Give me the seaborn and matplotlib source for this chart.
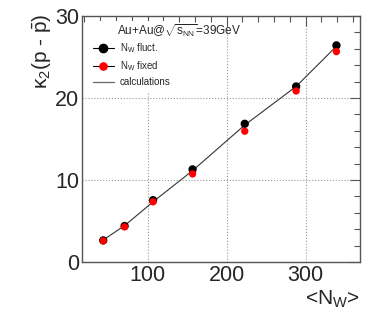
import matplotlib
matplotlib.use('Agg')
import matplotlib.pyplot as plt
from matplotlib.lines import Line2D
from matplotlib.ticker import MultipleLocator
import numpy as np
import pandas as pd
import seaborn as sns

# values
n_w = [44, 71, 107, 157, 223, 288, 339]
k2_fluct = [2.65, 4.4, 7.55, 11.3, 16.85, 21.4, 26.4]
k2_fixed = [2.6, 4.3, 7.35, 10.75, 15.95, 20.85, 25.65]
k2_calc = [2.7, 4.45, 7.35, 11.15, 16.7, 21.4, 26.3]

df = pd.DataFrame({'nw': n_w, 'fluct': k2_fluct, 'fixed': k2_fixed, 'calc': k2_calc})

sns.set_style('white')
plt.rcParams['font.family'] = ['Liberation Sans', 'DejaVu Sans']
plt.rcParams['mathtext.fontset'] = 'custom'
plt.rcParams['mathtext.rm'] = 'Liberation Sans'
plt.rcParams['mathtext.it'] = 'Liberation Sans'
plt.rcParams['mathtext.bf'] = 'Liberation Sans'

fig = plt.figure(figsize=(3.74, 3.17), dpi=100)
ax = fig.add_axes([0.219, 0.173, 0.744, 0.777])

# calculation line and the two point sets
sns.lineplot(data=df, x='nw', y='calc', ax=ax, color='#333333', lw=0.8, zorder=3)
sns.scatterplot(data=df, x='nw', y='fluct', ax=ax, color='black', s=36,
                edgecolor='none', zorder=4)
sns.scatterplot(data=df, x='nw', y='fixed', ax=ax, color='#ff0000', s=28,
                edgecolor='none', zorder=5)

ax.set_xlim(17, 369)
ax.set_ylim(0, 30)
ax.xaxis.set_major_locator(MultipleLocator(100))
ax.xaxis.set_minor_locator(MultipleLocator(20))
ax.yaxis.set_major_locator(MultipleLocator(10))
ax.yaxis.set_minor_locator(MultipleLocator(2))
ax.tick_params(which='both', direction='in', top=True, right=True,
               labelsize=15.5, color='#555555', pad=2)
ax.tick_params(which='major', length=7, width=0.8)
ax.tick_params(which='minor', length=4, width=0.8)
for sp in ax.spines.values():
    sp.set_color('#555555')
    sp.set_linewidth(1.0)
ax.grid(True, which='major', linestyle=':', color='#999999', lw=0.8)

ax.set_xlabel('')
ax.set_ylabel('')
fig.text(0.11, 0.958, r'$\kappa_2$(p - $\bar{\mathrm{p}}$)', rotation=90,
         ha='center', va='top', fontsize=15)
fig.text(0.963, 0.055, r'<N$_\mathrm{W}$>', ha='right', va='center', fontsize=15)

# legend in ROOT style
handles = [Line2D([], [], color='black', lw=0.8, marker='o', markersize=6,
                  markerfacecolor='black', markeredgecolor='black'),
           Line2D([], [], color='black', lw=0.8, marker='o', markersize=5.2,
                  markerfacecolor='red', markeredgecolor='red'),
           Line2D([], [], color='#666666', lw=0.9)]
labels = [r'N$_\mathrm{W}$ fluct.', r'N$_\mathrm{W}$ fixed', 'calculations']
leg = ax.legend(handles, labels, loc='upper left', bbox_to_anchor=(0.0, 1.0),
                frameon=True, fontsize=7, handlelength=2.2, labelspacing=0.45,
                borderpad=0.6, handletextpad=0.6, title=' ', title_fontsize=7.5)
leg.get_frame().set_facecolor('white')
leg.get_frame().set_edgecolor('none')
leg.get_frame().set_alpha(1)
leg.set_zorder(6)
ax.text(0.126, 0.975, r'Au+Au@$\sqrt{\mathrm{s}_{\mathrm{NN}}}$=39GeV',
        transform=ax.transAxes, ha='left', va='top', fontsize=8.5, zorder=7)

fig.savefig('out.png', dpi=100)
